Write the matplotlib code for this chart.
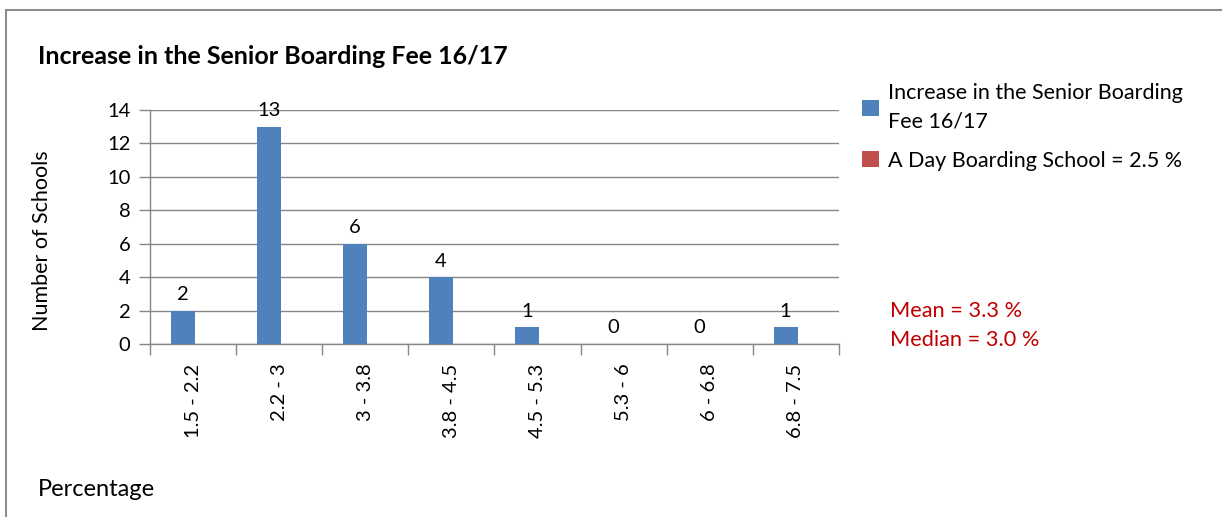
import matplotlib.pyplot as plt
import numpy as np
from matplotlib.patches import Rectangle

plt.rcParams['font.family'] = ['Lato', 'DejaVu Sans']

categories = ['1.5 - 2.2', '2.2 - 3', '3 - 3.8', '3.8 - 4.5', '4.5 - 5.3', '5.3 - 6', '6 - 6.8', '6.8 - 7.5']
senior_fee = [2, 13, 6, 4, 1, 0, 0, 1]
day_boarding = [0, 0, 0, 0, 0, 0, 0, 0]
yticks = [0, 2, 4, 6, 8, 10, 12, 14]

blue = '#4F81BD'
red = '#C0504D'
grey = '#868686'

fig = plt.figure(figsize=(12.22, 5.17), dpi=100)

# outer chart border (runs off the right/bottom of the picture)
fig.patches.append(Rectangle((6 / 1222, -0.1), 1.2, 1 - 10 / 517 + 0.1, transform=fig.transFigure,
                             fill=False, edgecolor='#8c8c8c', linewidth=1.5))

ax = fig.add_axes([150 / 1222, 1 - 344 / 517, 689 / 1222, 234 / 517])

x = np.arange(len(categories))
w = 0.28
bars = ax.bar(x - 0.12, senior_fee, width=w, color=blue, label='Increase in the Senior Boarding\nFee 16/17', zorder=3)
ax.bar(x + 0.16, day_boarding, width=w, color=red, label='A Day Boarding School = 2.5 %', zorder=3)

for b, v in zip(bars, senior_fee):
    ax.text(b.get_x() + b.get_width() / 2, v + 0.45, str(v), ha='center', va='bottom', fontsize=14.5, zorder=4)

ax.set_xlim(-0.5, len(categories) - 0.5)
ax.set_ylim(0, 14)
ax.set_yticks(yticks)
ax.set_yticklabels([str(t) for t in yticks], fontsize=14.5)
ax.yaxis.grid(True, color=grey, linewidth=1, zorder=0)

ax.set_xticks(x)
ax.set_xticklabels(categories, rotation=90, fontsize=14.5)
ax.set_xticks(np.arange(-0.5, len(categories)), minor=True)
ax.tick_params(axis='x', which='major', length=0, pad=14)
ax.tick_params(axis='x', which='minor', length=8, color=grey, width=1, direction='out')
ax.tick_params(axis='y', length=8, color=grey, width=1, direction='out', pad=6)

for s in ['top', 'right']:
    ax.spines[s].set_visible(False)
for s in ['left', 'bottom']:
    ax.spines[s].set_color(grey)
    ax.spines[s].set_linewidth(1)

ax.set_ylabel('Number of Schools', fontsize=15.5, va='center')
ax.yaxis.set_label_coords(-0.157, 0.44)

fig.text(38 / 1222, 1 - 57 / 517, 'Increase in the Senior Boarding Fee 16/17', fontsize=18, fontweight='bold', va='center')
fig.text(38 / 1222, 1 - 490 / 517, 'Percentage', fontsize=17, va='center')
fig.text(890 / 1222, 1 - 311 / 517, 'Mean = 3.3 %', fontsize=15.7, color='#C00000', va='center')
fig.text(890 / 1222, 1 - 340 / 517, 'Median = 3.0 %', fontsize=15.7, color='#C00000', va='center')

leg = fig.legend(loc='upper left', bbox_to_anchor=(843 / 1222, 1 - 64 / 517), frameon=False, fontsize=15.5,
                 handlelength=0.75, handleheight=0.75, handletextpad=0.45, labelspacing=0.9)
for t in leg.get_texts():
    t.set_linespacing(1.5)

fig.savefig('out.png', dpi=100)
